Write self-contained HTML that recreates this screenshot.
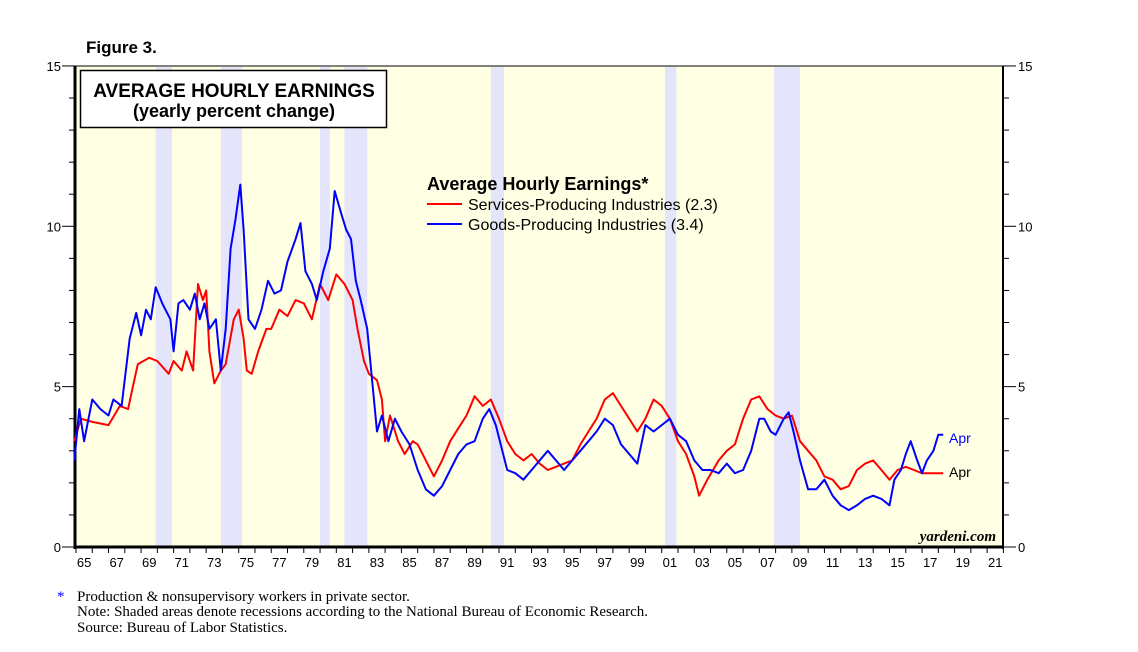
<!DOCTYPE html>
<html><head><meta charset="utf-8"><style>
body{margin:0;background:#fff;width:1138px;height:652px;overflow:hidden}
svg{display:block}
</style></head><body>
<svg id="chart" width="1138" height="652" xmlns="http://www.w3.org/2000/svg" font-family="Liberation Sans, sans-serif">
<text x="86" y="53" font-size="17" font-weight="bold">Figure 3.</text>
<g id="plot"></g>
</svg>
<script>
const recStart=[1969.9,1973.9,1980.0,1981.5,1990.5,2001.2,2007.9];
const recEnd=[1970.9,1975.2,1980.6,1982.9,1991.3,2001.9,2009.5];
const yTicks=[0,5,10,15];
const xYears=[1965,1967,1969,1971,1973,1975,1977,1979,1981,1983,1985,1987,1989,1991,1993,1995,1997,1999,2001,2003,2005,2007,2009,2011,2013,2015,2017,2019,2021];
const svcT=[1964.9,1965.3,1966,1967,1967.7,1968.2,1968.5,1968.8,1969.5,1970,1970.7,1971,1971.5,1971.8,1972.2,1972.5,1972.8,1973,1973.2,1973.5,1973.9,1974.2,1974.7,1975,1975.3,1975.5,1975.8,1976.2,1976.7,1977,1977.5,1978,1978.5,1979,1979.5,1980,1980.5,1981,1981.5,1982,1982.3,1982.7,1983,1983.5,1983.8,1984,1984.3,1984.8,1985.2,1985.7,1986,1986.5,1987,1987.5,1988,1988.5,1989,1989.5,1990,1990.5,1991,1991.5,1992,1992.5,1993,1993.5,1994,1994.5,1995,1995.5,1996,1996.5,1997,1997.5,1998,1998.5,1999,1999.5,2000,2000.5,2001,2001.5,2002,2002.5,2003,2003.3,2003.8,2004.5,2005,2005.5,2006,2006.5,2007,2007.5,2008,2008.5,2009,2009.5,2010,2010.5,2011,2011.5,2012,2012.5,2013,2013.5,2014,2014.5,2015,2015.5,2016,2016.5,2017,2017.5,2018.3];
const svcV=[3.3,4.0,3.9,3.8,4.4,4.3,5.0,5.7,5.9,5.8,5.4,5.8,5.5,6.1,5.5,8.2,7.7,8.0,6.1,5.1,5.5,5.7,7.1,7.4,6.5,5.5,5.4,6.1,6.8,6.8,7.4,7.2,7.7,7.6,7.1,8.2,7.7,8.5,8.2,7.7,6.8,5.8,5.4,5.2,4.6,3.3,4.1,3.3,2.9,3.3,3.2,2.7,2.2,2.7,3.3,3.7,4.1,4.7,4.4,4.6,4.0,3.3,2.9,2.7,2.9,2.6,2.4,2.5,2.6,2.7,3.2,3.6,4.0,4.6,4.8,4.4,4.0,3.6,4.0,4.6,4.4,4.0,3.3,2.9,2.2,1.6,2.1,2.7,3.0,3.2,4.0,4.6,4.7,4.3,4.1,4.0,4.1,3.3,3.0,2.7,2.2,2.1,1.8,1.9,2.4,2.6,2.7,2.4,2.1,2.4,2.5,2.4,2.3,2.3,2.3];
const gdsT=[1964.9,1965.2,1965.5,1966,1966.5,1967,1967.3,1967.8,1968.3,1968.7,1969,1969.3,1969.6,1969.9,1970.3,1970.8,1971,1971.3,1971.6,1972,1972.3,1972.6,1972.9,1973.2,1973.6,1973.9,1974.2,1974.5,1974.8,1975.1,1975.3,1975.6,1976,1976.4,1976.8,1977.2,1977.6,1978,1978.5,1978.8,1979.1,1979.5,1979.8,1980.2,1980.6,1980.9,1981.3,1981.6,1981.9,1982.2,1982.5,1982.9,1983.2,1983.5,1983.8,1984.2,1984.6,1985,1985.5,1986,1986.5,1987,1987.5,1988,1988.5,1989,1989.5,1990,1990.4,1990.8,1991.2,1991.5,1992,1992.5,1993,1993.5,1994,1994.5,1995,1995.5,1996,1996.5,1997,1997.5,1998,1998.5,1999,1999.5,2000,2000.5,2001,2001.5,2002,2002.5,2003,2003.5,2004,2004.5,2005,2005.5,2006,2006.5,2007,2007.3,2007.7,2008,2008.5,2008.8,2009.1,2009.5,2010,2010.5,2011,2011.5,2012,2012.5,2013,2013.5,2014,2014.5,2015,2015.3,2015.7,2016,2016.3,2016.7,2017,2017.3,2017.7,2018,2018.3];
const gdsV=[2.7,4.3,3.3,4.6,4.3,4.1,4.6,4.4,6.5,7.3,6.6,7.4,7.1,8.1,7.6,7.1,6.1,7.6,7.7,7.4,7.9,7.1,7.6,6.8,7.1,5.5,6.8,9.3,10.2,11.3,9.9,7.1,6.8,7.4,8.3,7.9,8.0,8.9,9.6,10.1,8.6,8.2,7.7,8.6,9.3,11.1,10.4,9.9,9.6,8.3,7.7,6.8,5.2,3.6,4.1,3.3,4.0,3.6,3.2,2.4,1.8,1.6,1.9,2.4,2.9,3.2,3.3,4.0,4.3,3.8,3.0,2.4,2.3,2.1,2.4,2.7,3.0,2.7,2.4,2.7,3.0,3.3,3.6,4.0,3.8,3.2,2.9,2.6,3.8,3.6,3.8,4.0,3.5,3.3,2.7,2.4,2.4,2.3,2.6,2.3,2.4,3.0,4.0,4.0,3.6,3.5,4.0,4.2,3.6,2.7,1.8,1.8,2.1,1.6,1.3,1.15,1.3,1.5,1.6,1.5,1.3,2.1,2.4,2.9,3.3,2.7,2.3,2.7,3.0,3.5,3.5];
const NS='http://www.w3.org/2000/svg';
const X0=76,PX=16.27,Y0=547,PY=32.07;
const xs=t=>X0+(t-1965)*PX, ys=v=>Y0-v*PY;
const g=document.getElementById('plot');
function mk(tag,attrs,parent){const e=document.createElementNS(NS,tag);for(const k in attrs)e.setAttribute(k,attrs[k]);(parent||g).appendChild(e);return e;}
let bg=mk('rect',{x:75,y:66,width:928,height:481,fill:'#ffffe4',stroke:'#000','stroke-width':1});


recStart.forEach((s,i)=>{const r=mk('rect',{x:xs(s),y:67,width:xs(recEnd[i])-xs(s),height:480,fill:'#e4e4fa'});

});
let la=mk('line',{x1:75,y1:66,x2:75,y2:549,stroke:'#000','stroke-width':3});


let ba=mk('line',{x1:74,y1:547,x2:1004,y2:547,stroke:'#000','stroke-width':3});


let ra=mk('line',{x1:1003,y1:66,x2:1003,y2:549,stroke:'#000','stroke-width':2});


for(let v=0;v<=15;v++){const y=ys(v),maj=v%5==0;
mk('line',{x1:maj?62:69,y1:y,x2:75,y2:y,stroke:'#000','stroke-width':1});
mk('line',{x1:1003,y1:y,x2:maj?1016:1009,y2:y,stroke:'#000','stroke-width':1});}
yTicks.forEach(v=>{let t=mk('text',{x:61,y:ys(v)+5,'font-size':13,'text-anchor':'end'});t.textContent=v;


let t2=mk('text',{x:1018,y:ys(v)+5,'font-size':13});t2.textContent=v;

});
for(let yr=1965;yr<=2022;yr++)mk('line',{x1:xs(yr),y1:547,x2:xs(yr),y2:553,stroke:'#000','stroke-width':1});
xYears.forEach(yr=>{let t=mk('text',{x:xs(yr+0.5),y:567,'font-size':13,'text-anchor':'middle'});t.textContent=String(yr%100).padStart(2,'0');

});
function line(T,V,c,name){let d=T.map((t,i)=>(i?'L':'M')+xs(t).toFixed(1)+','+ys(V[i]).toFixed(1)).join('');
let p=mk('path',{d:d,fill:'none',stroke:c,'stroke-width':2,'stroke-linejoin':'round'});

}
line(svcT,svcV,'#f00','services-line');
line(gdsT,gdsV,'#00f','goods-line');
</script>
<svg style="position:absolute;left:0;top:0" width="1138" height="652" xmlns="http://www.w3.org/2000/svg" font-family="Liberation Sans, sans-serif">
<g>
<rect x="80.5" y="70.5" width="306" height="57" fill="#fff" stroke="#000" stroke-width="1.5"/>
<text x="234" y="97" font-size="19" font-weight="bold" text-anchor="middle">AVERAGE HOURLY EARNINGS</text>
<text x="234" y="117" font-size="18" font-weight="bold" text-anchor="middle">(yearly percent change)</text>
</g>
<g>
<text x="427" y="190" font-size="18" font-weight="bold">Average Hourly Earnings*</text>
<line x1="427" y1="204" x2="462" y2="204" stroke="#f00" stroke-width="2"/>
<text x="468" y="210" font-size="16">Services-Producing Industries (2.3)</text>
<line x1="427" y1="224" x2="462" y2="224" stroke="#00f" stroke-width="2"/>
<text x="468" y="230" font-size="16">Goods-Producing Industries (3.4)</text>
</g>
<text x="949" y="443" font-size="14" fill="#00f">Apr</text>
<text x="949" y="477" font-size="14" fill="#000">Apr</text>
<text x="996" y="541" font-size="15" font-style="italic" font-weight="bold" font-family="Liberation Serif, serif" text-anchor="end">yardeni.com</text>
<g font-family="Liberation Serif, serif" font-size="15">
<text x="57" y="601" fill="#00f">*</text>
<text x="77" y="601">Production &amp; nonsupervisory workers in private sector.</text>
<text x="77" y="616">Note: Shaded areas denote recessions according to the National Bureau of Economic Research.</text>
<text x="77" y="632">Source: Bureau of Labor Statistics.</text>
</g>
</svg>
</body></html>
